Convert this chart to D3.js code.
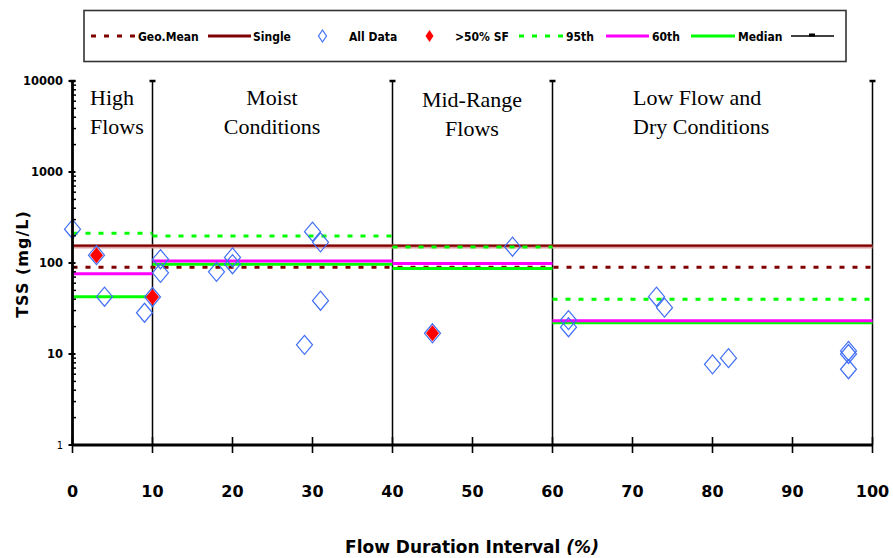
<!DOCTYPE html>
<meta charset="utf-8">
<body style="margin:0;background:#fff">
<div id="chart"></div>
<script src="https://d3js.org/d3.v7.min.js"></script>
<script>
// flow zones (percent) and zone statistics, mg/L
var zoneEdges = [0, 10, 40, 60, 100];
var p95 = [212, 198, 150, 40];
var p60 = [76, 105, 99, 23.2];
var median = [42.6, 97, 87, 22];
var geoMean = 90;
var single = 155;

// all samples
var allX = [0, 3, 4, 9, 10, 11, 11, 18, 20, 20, 29, 30, 31, 31, 45, 55, 62, 62, 73, 74, 80, 82, 97, 97, 97];
var allY = [235, 122, 42.6, 28.4, 42.3, 110, 78, 80, 115, 97, 12.6, 221, 169, 38.5, 16.9, 151, 23.6, 19.7, 42.6, 32.3, 7.7, 9.0, 10.8, 10, 6.8];
// samples taken with > 50% storm flow
var sfX = [3, 10, 45];
var sfY = [122, 42.3, 16.9];

var xTicks = [0, 10, 20, 30, 40, 50, 60, 70, 80, 90, 100];
var yTicks = [1, 10, 100, 1000, 10000];
var zoneNames = [["High", "Flows"], ["Moist", "Conditions"], ["Mid-Range", "Flows"], ["Low Flow and", "Dry Conditions"]];

var W = 893, H = 558;
var comic = "'Comic Sans MS', 'DejaVu Sans', sans-serif";
var svg = d3.select("#chart").append("svg").attr("width", W).attr("height", H)
  .style("font-family", comic);

var x = d3.scaleLinear().domain([0, 100]).range([72.5, 872.5]);
var y = d3.scaleLog().domain([1, 10000]).range([445, 81]);

// ---- legend box ----
var lg = svg.append("g");
lg.append("rect").attr("x", 84).attr("y", 10.5).attr("width", 762).attr("height", 51)
  .attr("fill", "#fff").attr("stroke", "#333").attr("stroke-width", 1.6);
var ly = 36;
function legLine(x1, x2, color, dash, w) {
  lg.append("line").attr("x1", x1).attr("x2", x2).attr("y1", ly).attr("y2", ly)
    .attr("stroke", color).attr("stroke-width", w || 3).attr("stroke-dasharray", dash || null);
}
function legText(xx, t) {
  lg.append("text").attr("x", xx).attr("y", ly + 4.5).attr("font-size", 12)
    .style("font-family", "'DejaVu Sans Condensed', 'DejaVu Sans', sans-serif")
    .attr("font-weight", "bold").text(t);
}
function diamond(cx, cy, hw, hh) {
  return "M" + cx + "," + (cy - hh) + "L" + (cx + hw) + "," + cy + "L" + cx + "," + (cy + hh) + "L" + (cx - hw) + "," + cy + "Z";
}
legLine(91, 135, "#800000", "5,8");
legText(138, "Geo.Mean");
legLine(208, 251, "#800000");
legText(253, "Single");
lg.append("path").attr("d", diamond(322.5, ly, 4, 6)).attr("fill", "none").attr("stroke", "#3f6ef5").attr("stroke-width", 1.2);
legText(349, "All Data");
lg.append("path").attr("d", diamond(429.5, ly, 4, 6)).attr("fill", "#ff0000");
legText(455, ">50% SF");
legLine(519, 563, "#00ff00", "5,8");
legText(566, "95th");
legLine(606, 649, "#ff00ff");
legText(652, "60th");
legLine(691, 735, "#00ff00");
legText(738, "Median");
legLine(791, 834, "#000", null, 1.5);
lg.append("rect").attr("x", 809).attr("y", ly - 2.5).attr("width", 6).attr("height", 3).attr("fill", "#000");

// ---- zone dividers ----
var plot = svg.append("g");
zoneEdges.slice(1).forEach(function(e) {
  plot.append("line").attr("x1", x(e)).attr("x2", x(e)).attr("y1", y(10000)).attr("y2", y(1))
    .attr("stroke", "#000").attr("stroke-width", 1.5);
  plot.append("line").attr("x1", x(e) - 3).attr("x2", x(e) + 3).attr("y1", y(10000)).attr("y2", y(10000))
    .attr("stroke", "#000").attr("stroke-width", 2.5);
});

// zone labels
var labelPos = [{x: 90, anchor: "start"}, {x: 272, anchor: "middle"}, {x: 472, anchor: "middle"}, {x: 633, anchor: "start"}];
zoneNames.forEach(function(lines, i) {
  lines.forEach(function(t, j) {
    plot.append("text").attr("x", labelPos[i].x).attr("y", 105 + j * 29 + (i == 2 ? 2 : 0))
      .attr("text-anchor", labelPos[i].anchor)
      .style("font-family", "'Liberation Serif', 'Times New Roman', serif")
      .attr("font-size", 22).text(t);
  });
});

// ---- reference lines ----
// single sample criterion
plot.append("line").attr("x1", x(0)).attr("x2", x(100)).attr("y1", y(single) + 0.8).attr("y2", y(single) + 0.8)
  .attr("stroke", "#dca0a0").attr("stroke-width", 4);
plot.append("line").attr("x1", x(0)).attr("x2", x(100)).attr("y1", y(single)).attr("y2", y(single))
  .attr("stroke", "#800000").attr("stroke-width", 2.2);
// geometric mean criterion
plot.append("line").attr("x1", x(0)).attr("x2", x(100)).attr("y1", y(geoMean)).attr("y2", y(geoMean))
  .attr("stroke", "#800000").attr("stroke-width", 3).attr("stroke-dasharray", "5,8");

function zoneLines(vals, color, dash) {
  plot.selectAll(null).data(vals).enter().append("line")
    .attr("x1", function(d, i) { return x(zoneEdges[i]); })
    .attr("x2", function(d, i) { return x(zoneEdges[i + 1]); })
    .attr("y1", function(d) { return y(d); })
    .attr("y2", function(d) { return y(d); })
    .attr("stroke", color).attr("stroke-width", 3)
    .attr("stroke-dasharray", dash || null);
}
zoneLines(p95, "#00ff00", "5,8");
zoneLines(median, "#00ff00");
zoneLines(p60, "#ff00ff");

// ---- points ----
plot.selectAll(".all").data(allX).enter().append("path")
  .attr("class", "all")
  .attr("d", function(d, i) { return diamond(x(d), y(allY[i]), 8, 9.5); })
  .attr("fill", "none").attr("stroke", "#3f6ef5").attr("stroke-width", 1.2);
plot.selectAll(".sf").data(sfX).enter().append("path")
  .attr("class", "sf")
  .attr("d", function(d, i) { return diamond(x(d), y(sfY[i]), 6.5, 8); })
  .attr("fill", "#ff0000");

// ---- axes ----
var ax = svg.append("g");
// x axis
ax.append("line").attr("x1", x(0)).attr("x2", x(100)).attr("y1", y(1)).attr("y2", y(1))
  .attr("stroke", "#000").attr("stroke-width", 2.8);
ax.selectAll(".xt").data(xTicks).enter().append("line")
  .attr("x1", function(d) { return x(d); }).attr("x2", function(d) { return x(d); })
  .attr("y1", y(1) - 8).attr("y2", y(1) + 8)
  .attr("stroke", "#000").attr("stroke-width", 1.6);
ax.selectAll(".xl").data(xTicks).enter().append("text")
  .attr("x", function(d) { return x(d); }).attr("y", 497)
  .attr("text-anchor", "middle").attr("font-size", 16).attr("font-weight", "bold")
  .text(function(d) { return d; });
var xt = ax.append("text").attr("x", 472).attr("y", 553).attr("text-anchor", "middle")
  .attr("font-size", 17).attr("font-weight", "bold");
xt.append("tspan").text("Flow Duration Interval ");
xt.append("tspan").attr("font-style", "italic").text("(%)");

// y axis
ax.append("line").attr("x1", x(0)).attr("x2", x(0)).attr("y1", y(10000)).attr("y2", y(1))
  .attr("stroke", "#000").attr("stroke-width", 2.8);
ax.append("line").attr("x1", x(0) - 3).attr("x2", x(0) + 3).attr("y1", y(10000)).attr("y2", y(10000))
  .attr("stroke", "#000").attr("stroke-width", 2.5);
var minor = [];
for (var dcd = 1; dcd < 10000; dcd *= 10) {
  for (var m = 2; m < 10; m++) minor.push(dcd * m);
}
ax.selectAll(".ym").data(minor).enter().append("line")
  .attr("x1", x(0)).attr("x2", x(0) + 3.5)
  .attr("y1", function(d) { return y(d); }).attr("y2", function(d) { return y(d); })
  .attr("stroke", "#000").attr("stroke-width", 1.5);
ax.selectAll(".yt").data(yTicks).enter().append("line")
  .attr("x1", x(0) - 4).attr("x2", x(0) + 3)
  .attr("y1", function(d) { return y(d); }).attr("y2", function(d) { return y(d); })
  .attr("stroke", "#000").attr("stroke-width", 2);
ax.selectAll(".yl").data(yTicks).enter().append("text")
  .attr("x", 63).attr("y", function(d) { return y(d) + 4; })
  .attr("text-anchor", "end")
  .attr("font-size", function(d) { return d == 1 ? 10 : 11.5; })
  .attr("font-weight", function(d) { return d == 1 ? "normal" : "bold"; })
  .text(function(d) { return d; });
ax.append("text").attr("transform", "translate(28,264) rotate(-90)")
  .attr("text-anchor", "middle").attr("font-size", 16).attr("font-weight", "bold")
  .attr("letter-spacing", 1)
  .text("TSS (mg/L)");
</script>
</body>
